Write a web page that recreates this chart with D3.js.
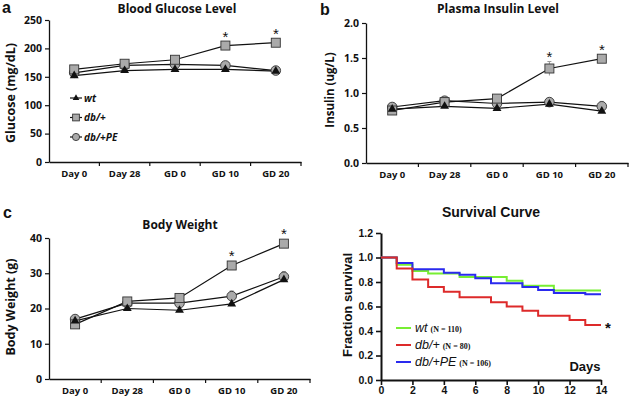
<!DOCTYPE html>
<html>
<head>
<meta charset="utf-8">
<script src="https://cdn.jsdelivr.net/npm/d3@7"></script>
<style>
  body { margin: 0; background: #fff; }
  svg { display: block; }
</style>
</head>
<body>
<svg id="chart" width="636" height="401"></svg>
<script>
// time points shared by panels a-c
const timePoints = ['Day 0', 'Day 28', 'GD 0', 'GD 10', 'GD 20'];
const groups = ['wt', 'db/+', 'db/+PE'];

// panel a: blood glucose (mg/dL)
const glucoseWt = [152, 161, 163, 163, 160];
const glucoseDb = [163, 173, 180, 205, 210];
const glucosePe = [157, 170, 172, 170, 161];
const glucoseDbErr = [3, 3, 4, 6, 6];
const glucosePeErr = [3, 3, 3, 3, 3];

// panel b: plasma insulin (ug/L)
const insulinWt = [0.77, 0.81, 0.78, 0.84, 0.74];
const insulinDb = [0.75, 0.87, 0.92, 1.35, 1.49];
const insulinPe = [0.80, 0.89, 0.85, 0.87, 0.81];
const insulinDbErr = [0.02, 0.03, 0.03, 0.10, 0.03];
const insulinPeErr = [0.02, 0.03, 0.03, 0.04, 0.07];

// panel c: body weight (g)
const weightWt = [16.5, 20.0, 19.5, 21.3, 28.2];
const weightDb = [15.5, 22.0, 23.0, 32.2, 38.4];
const weightPe = [17.0, 21.5, 21.5, 23.5, 29.0];
const weightPeErr = [0.5, 0.6, 0.6, 1.5, 1.5];

// panel d: survival steps [day, fraction]
const survivalWt = [[0, 1.0], [1, 0.94], [2, 0.89], [3, 0.87], [5, 0.84], [8, 0.81], [9, 0.77], [11, 0.73]];
const survivalDb = [[0, 1.0], [1, 0.91], [2, 0.82], [3, 0.76], [4, 0.72], [5, 0.675], [7, 0.635], [8, 0.60], [9, 0.565], [10, 0.525], [12, 0.49], [13, 0.45]];
const survivalPe = [[0, 1.0], [1, 0.955], [2, 0.905], [4, 0.875], [5, 0.86], [6, 0.83], [7, 0.79], [9, 0.76], [10, 0.735], [11, 0.71], [13, 0.70]];
const survivalN = ['(N = 110)', '(N = 80)', '(N = 106)'];
const survivalDays = 14;

const svg = d3.select('#chart');
const boldFont = '"Open Sans", "Liberation Sans", sans-serif';
const arialFont = '"Liberation Sans", Arial, sans-serif';

function drawMarker(g, kind, x, y, k = 1) {
    if (kind === 'wt') {
        g.append('path')
            .attr('d', d3.symbol(d3.symbolTriangle, 34 * k * k)())
            .attr('transform', `translate(${x},${y})`)
            .attr('fill', '#111');
    } else if (kind === 'db/+') {
        g.append('rect')
            .attr('x', x - 4.5 * k).attr('y', y - 4.5 * k)
            .attr('width', 9 * k).attr('height', 9 * k)
            .attr('fill', '#aaa').attr('stroke', '#333').attr('stroke-width', 0.9);
    } else {
        g.append('circle')
            .attr('cx', x).attr('cy', y).attr('r', 4.8 * k)
            .attr('fill', '#aaa').attr('stroke', '#333').attr('stroke-width', 0.9);
    }
}

function linePanel(cfg) {
    const g = svg.append('g');
    const x = d3.scaleBand().domain(timePoints).range(cfg.xRange);
    const y = d3.scaleLinear().domain(cfg.yDomain).range(cfg.yRange);
    const cx = d => x(d) + x.bandwidth() / 2;

    // axes
    const yAxis = g.append('g')
        .attr('transform', `translate(${cfg.xRange[0]},0)`)
        .call(d3.axisLeft(y).tickValues(cfg.yTicks).tickFormat(cfg.fmt).tickSize(4).tickSizeOuter(0));
    const xAxis = g.append('g')
        .attr('transform', `translate(0,${cfg.yRange[0]})`)
        .call(d3.axisBottom(x).tickSize(0).tickPadding(8).tickSizeOuter(0));
    [yAxis, xAxis].forEach(a => {
        a.select('.domain').attr('stroke', '#111').attr('stroke-width', 1.3);
        a.selectAll('.tick line').attr('stroke', '#111').attr('stroke-width', 1.2);
        a.selectAll('text').attr('fill', '#111')
            .style('font-family', boldFont).style('font-weight', 'bold').style('font-size', '10.5px');
    });
    xAxis.selectAll('text').style('font-size', '9.5px');
    // ticks between categories
    timePoints.forEach((t, i) => {
        if (i === 0) return;
        g.append('line')
            .attr('x1', x(t)).attr('x2', x(t))
            .attr('y1', cfg.yRange[0]).attr('y2', cfg.yRange[0] + 4)
            .attr('stroke', '#111').attr('stroke-width', 1.2);
    });
    g.append('line')
        .attr('x1', cfg.xRange[1]).attr('x2', cfg.xRange[1])
        .attr('y1', cfg.yRange[0]).attr('y2', cfg.yRange[0] + 4)
        .attr('stroke', '#111').attr('stroke-width', 1.2);

    const line = d3.line().x((d, i) => cx(timePoints[i])).y(d => y(d));

    cfg.series.forEach((s, si) => {
        if (s.err) {
            s.values.forEach((v, i) => {
                g.append('line')
                    .attr('x1', cx(timePoints[i])).attr('x2', cx(timePoints[i]))
                    .attr('y1', y(v - s.err[i])).attr('y2', y(v + s.err[i]))
                    .attr('stroke', '#999').attr('stroke-width', 1);
                g.append('line')
                    .attr('x1', cx(timePoints[i]) - 2).attr('x2', cx(timePoints[i]) + 2)
                    .attr('y1', y(v + s.err[i])).attr('y2', y(v + s.err[i]))
                    .attr('stroke', '#999').attr('stroke-width', 1);
            });
        }
    });
    cfg.series.forEach(s => {
        g.append('path').datum(s.values)
            .attr('d', line).attr('fill', 'none')
            .attr('stroke', '#111').attr('stroke-width', 1.2);
    });
    // draw wt last so triangles sit over
    [cfg.series[2], cfg.series[1], cfg.series[0]].forEach(s => {
        s.values.forEach((v, i) => drawMarker(g, s.name, cx(timePoints[i]), y(v)));
    });

    // significance stars
    cfg.stars.forEach(st => {
        g.append('text')
            .attr('x', cx(st.t)).attr('y', y(st.v))
            .attr('text-anchor', 'middle')
            .style('font-family', arialFont).style('font-size', '15px')
            .attr('fill', '#111').text('*');
    });

    // title, y label, panel letter
    g.append('text')
        .attr('x', cfg.title[1]).attr('y', cfg.title[2])
        .attr('text-anchor', 'middle')
        .style('font-family', boldFont).style('font-weight', 'bold').style('font-size', '12px')
        .attr('fill', '#111').text(cfg.title[0]);
    g.append('text')
        .attr('transform', `translate(${cfg.yLabel[1]},${cfg.yLabel[2]}) rotate(-90)`)
        .attr('text-anchor', 'middle')
        .style('font-family', boldFont).style('font-weight', 'bold').style('font-size', cfg.yLabel[3])
        .attr('fill', '#111').text(cfg.yLabel[0]);
    g.append('text')
        .attr('x', cfg.letter[1]).attr('y', cfg.letter[2])
        .style('font-family', arialFont).style('font-weight', 'bold').style('font-size', '16px')
        .attr('fill', '#111').text(cfg.letter[0]);
    return g;
}

const ga = linePanel({
    xRange: [49, 301], yRange: [162, 20], yDomain: [0, 250], yTicks: d3.range(0, 251, 50), fmt: d3.format('d'),
    series: [
        { name: 'wt', values: glucoseWt },
        { name: 'db/+', values: glucoseDb, err: glucoseDbErr },
        { name: 'db/+PE', values: glucosePe, err: glucosePeErr }
    ],
    stars: [{ t: 'GD 10', v: 212 }, { t: 'GD 20', v: 216 }],
    title: ['Blood Glucose Level', 177, 13],
    yLabel: ['Glucose (mg/dL)', 15, 93, '12.5px'],
    letter: ['a', 2, 13]
});

// legend in panel a
groups.forEach((name, i) => {
    const ly = 98 + i * 19.5;
    ga.append('line').attr('x1', 70).attr('x2', 82).attr('y1', ly).attr('y2', ly)
        .attr('stroke', '#111').attr('stroke-width', 1.2);
    drawMarker(ga, name, 76, ly, 0.75);
    ga.append('text').attr('x', 84).attr('y', ly + 3.5)
        .style('font-family', boldFont).style('font-weight', 'bold').style('font-style', 'italic')
        .style('font-size', '10px').attr('fill', '#111').text(name);
});

linePanel({
    xRange: [366, 628], yRange: [163, 23], yDomain: [0, 2], yTicks: d3.range(0, 2.01, 0.5), fmt: d3.format('.1f'),
    series: [
        { name: 'wt', values: insulinWt },
        { name: 'db/+', values: insulinDb, err: insulinDbErr },
        { name: 'db/+PE', values: insulinPe, err: insulinPeErr }
    ],
    stars: [{ t: 'GD 10', v: 1.45 }, { t: 'GD 20', v: 1.55 }],
    title: ['Plasma Insulin Level', 498, 13],
    yLabel: ['Insulin (ug/L)', 334, 90, '11.5px'],
    letter: ['b', 320, 15]
});

linePanel({
    xRange: [49, 310], yRange: [379, 238], yDomain: [0, 40], yTicks: d3.range(0, 41, 10), fmt: d3.format('d'),
    series: [
        { name: 'wt', values: weightWt },
        { name: 'db/+', values: weightDb },
        { name: 'db/+PE', values: weightPe, err: weightPeErr }
    ],
    stars: [{ t: 'GD 10', v: 33.5 }, { t: 'GD 20', v: 39.8 }],
    title: ['Body Weight', 180, 229],
    yLabel: ['Body Weight (g)', 15, 307, '12.5px'],
    letter: ['c', 3, 218]
});

// panel d: survival curve
(function survivalPanel() {
    const g = svg.append('g');
    const x = d3.scaleLinear().domain([0, survivalDays]).range([381, 601]);
    const y = d3.scaleLinear().domain([0, 1.2]).range([380, 233]);

    const yAxis = g.append('g').attr('transform', 'translate(381,0)')
        .call(d3.axisLeft(y).tickValues(d3.range(0, 1.21, 0.2)).tickFormat(d3.format('.1f')).tickSize(5).tickSizeOuter(0));
    const xAxis = g.append('g').attr('transform', 'translate(0,380)')
        .call(d3.axisBottom(x).tickValues(d3.range(0, 15, 2)).tickFormat(d3.format('d')).tickSize(5).tickSizeOuter(0));
    [yAxis, xAxis].forEach(a => {
        a.select('.domain').attr('stroke', '#111').attr('stroke-width', 2);
        a.selectAll('.tick line').attr('stroke', '#111').attr('stroke-width', 1.6);
        a.selectAll('text').attr('fill', '#111')
            .style('font-family', arialFont).style('font-weight', 'bold').style('font-size', '10.5px');
    });
    xAxis.selectAll('text').attr('dy', '0.55em');

    const line = d3.line().curve(d3.curveStepAfter).x(d => x(d[0])).y(d => y(d[1]));
    const colors = ['#77ee33', '#dd2a2a', '#2a2aee'];
    const curves = [survivalWt, survivalDb, survivalPe];
    [0, 2, 1].forEach(i => {
        const pts = curves[i].concat([[survivalDays, curves[i][curves[i].length - 1][1]]]);
        g.append('path').datum(pts).attr('d', line)
            .attr('fill', 'none').attr('stroke', colors[i]).attr('stroke-width', 2);
    });

    // legend
    groups.forEach((name, i) => {
        const ly = 328 + i * 17;
        g.append('line').attr('x1', 396).attr('x2', 411).attr('y1', ly).attr('y2', ly)
            .attr('stroke', colors[i]).attr('stroke-width', 2);
        const t = g.append('text').attr('x', 415).attr('y', ly + 4).attr('fill', '#111');
        t.append('tspan').style('font-family', arialFont).style('font-style', 'italic')
            .style('font-size', '12.5px').text(name);
        t.append('tspan').attr('dx', 3).style('font-family', '"Liberation Serif", serif')
            .style('font-weight', 'bold').style('font-size', '8px').text(survivalN[i]);
    });

    g.append('text').attr('x', 605).attr('y', 333)
        .style('font-family', arialFont).style('font-weight', 'bold').style('font-size', '15px')
        .attr('fill', '#111').text('*');
    g.append('text').attr('x', 585).attr('y', 371).attr('text-anchor', 'middle')
        .style('font-family', arialFont).style('font-weight', 'bold').style('font-size', '13px')
        .attr('fill', '#111').text('Days');
    g.append('text').attr('x', 491).attr('y', 217).attr('text-anchor', 'middle')
        .style('font-family', arialFont).style('font-weight', 'bold').style('font-size', '14px')
        .attr('fill', '#111').text('Survival Curve');
    g.append('text').attr('transform', 'translate(352,305) rotate(-90)').attr('text-anchor', 'middle')
        .style('font-family', arialFont).style('font-weight', 'bold').style('font-size', '13px')
        .attr('fill', '#111').text('Fraction survival');
})();
</script>
</body>
</html>
